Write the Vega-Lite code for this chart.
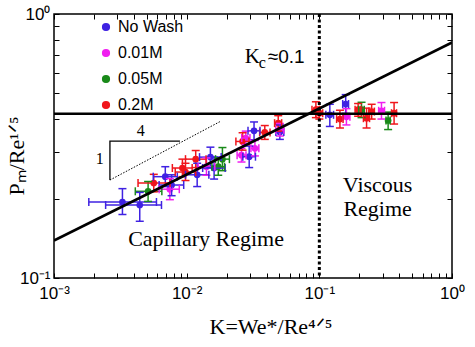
{
  "$schema": "https://vega.github.io/schema/vega-lite/v6.json",
  "width": 398,
  "height": 264,
  "autosize": {"type": "none"},
  "padding": {"left": 54, "top": 14, "right": 23, "bottom": 69},
  "background": "white",
  "config": {
    "view": {"stroke": "black", "strokeWidth": 1.5},
    "font": "Liberation Sans",
    "legend": {"labelFontSize": 16, "labelFont": "Liberation Sans", "labelColor": "black", "symbolSize": 45, "rowPadding": 10, "labelOffset": 4}
  },
  "datasets": {
    "pts": [
      {"s": "No Wash", "K": 0.00328, "P": 0.194, "Kl": 0.00183, "Kh": 0.00592, "Pl": 0.174, "Ph": 0.218},
      {"s": "No Wash", "K": 0.00443, "P": 0.189, "Kl": 0.00245, "Kh": 0.00646, "Pl": 0.164, "Ph": 0.211},
      {"s": "No Wash", "K": 0.0069, "P": 0.242, "Kl": 0.0056, "Kh": 0.0085, "Pl": 0.222, "Ph": 0.264},
      {"s": "No Wash", "K": 0.0077, "P": 0.225, "Kl": 0.0062, "Kh": 0.0095, "Pl": 0.205, "Ph": 0.246},
      {"s": "No Wash", "K": 0.012, "P": 0.246, "Kl": 0.0098, "Kh": 0.0147, "Pl": 0.222, "Ph": 0.272},
      {"s": "No Wash", "K": 0.0151, "P": 0.287, "Kl": 0.0125, "Kh": 0.0182, "Pl": 0.262, "Ph": 0.313},
      {"s": "No Wash", "K": 0.0161, "P": 0.261, "Kl": 0.0132, "Kh": 0.0195, "Pl": 0.237, "Ph": 0.287},
      {"s": "No Wash", "K": 0.0296, "P": 0.288, "Kl": 0.0265, "Kh": 0.033, "Pl": 0.262, "Ph": 0.316},
      {"s": "No Wash", "K": 0.0322, "P": 0.361, "Kl": 0.029, "Kh": 0.0357, "Pl": 0.334, "Ph": 0.39},
      {"s": "No Wash", "K": 0.0504, "P": 0.357, "Kl": 0.047, "Kh": 0.054, "Pl": 0.335, "Ph": 0.38},
      {"s": "No Wash", "K": 0.12, "P": 0.415, "Kl": 0.112, "Kh": 0.128, "Pl": 0.375, "Ph": 0.455},
      {"s": "No Wash", "K": 0.158, "P": 0.456, "Kl": 0.15, "Kh": 0.166, "Pl": 0.42, "Ph": 0.495},
      {"s": "0.01M", "K": 0.00747, "P": 0.217, "Kl": 0.0062, "Kh": 0.0088, "Pl": 0.198, "Ph": 0.238},
      {"s": "0.01M", "K": 0.0141, "P": 0.264, "Kl": 0.0122, "Kh": 0.0163, "Pl": 0.245, "Ph": 0.285},
      {"s": "0.01M", "K": 0.0259, "P": 0.292, "Kl": 0.024, "Kh": 0.028, "Pl": 0.275, "Ph": 0.31},
      {"s": "0.01M", "K": 0.0279, "P": 0.339, "Kl": 0.026, "Kh": 0.03, "Pl": 0.32, "Ph": 0.36},
      {"s": "0.01M", "K": 0.0327, "P": 0.31, "Kl": 0.0305, "Kh": 0.035, "Pl": 0.29, "Ph": 0.332},
      {"s": "0.01M", "K": 0.0504, "P": 0.364, "Kl": 0.047, "Kh": 0.054, "Pl": 0.345, "Ph": 0.385},
      {"s": "0.01M", "K": 0.16, "P": 0.408, "Kl": 0.15, "Kh": 0.17, "Pl": 0.38, "Ph": 0.438},
      {"s": "0.01M", "K": 0.294, "P": 0.43, "Kl": 0.28, "Kh": 0.31, "Pl": 0.4, "Ph": 0.462},
      {"s": "0.05M", "K": 0.00512, "P": 0.213, "Kl": 0.0041, "Kh": 0.0065, "Pl": 0.195, "Ph": 0.232},
      {"s": "0.05M", "K": 0.0173, "P": 0.264, "Kl": 0.0155, "Kh": 0.0193, "Pl": 0.245, "Ph": 0.285},
      {"s": "0.05M", "K": 0.0186, "P": 0.282, "Kl": 0.0165, "Kh": 0.021, "Pl": 0.255, "Ph": 0.312},
      {"s": "0.05M", "K": 0.208, "P": 0.434, "Kl": 0.198, "Kh": 0.218, "Pl": 0.405, "Ph": 0.463},
      {"s": "0.05M", "K": 0.33, "P": 0.395, "Kl": 0.318, "Kh": 0.342, "Pl": 0.365, "Ph": 0.425},
      {"s": "0.2M", "K": 0.00565, "P": 0.229, "Kl": 0.0043, "Kh": 0.0075, "Pl": 0.212, "Ph": 0.247},
      {"s": "0.2M", "K": 0.00929, "P": 0.261, "Kl": 0.0078, "Kh": 0.011, "Pl": 0.242, "Ph": 0.282},
      {"s": "0.2M", "K": 0.0098, "P": 0.252, "Kl": 0.0082, "Kh": 0.0117, "Pl": 0.234, "Ph": 0.272},
      {"s": "0.2M", "K": 0.0117, "P": 0.282, "Kl": 0.0098, "Kh": 0.014, "Pl": 0.262, "Ph": 0.304},
      {"s": "0.2M", "K": 0.0264, "P": 0.329, "Kl": 0.0235, "Kh": 0.0295, "Pl": 0.305, "Ph": 0.355},
      {"s": "0.2M", "K": 0.0388, "P": 0.356, "Kl": 0.0355, "Kh": 0.0425, "Pl": 0.335, "Ph": 0.378},
      {"s": "0.2M", "K": 0.049, "P": 0.386, "Kl": 0.046, "Kh": 0.052, "Pl": 0.36, "Ph": 0.412},
      {"s": "0.2M", "K": 0.0942, "P": 0.434, "Kl": 0.088, "Kh": 0.1, "Pl": 0.405, "Ph": 0.465},
      {"s": "0.2M", "K": 0.1, "P": 0.421, "Kl": 0.094, "Kh": 0.106, "Pl": 0.4, "Ph": 0.444},
      {"s": "0.2M", "K": 0.143, "P": 0.4, "Kl": 0.135, "Kh": 0.151, "Pl": 0.37, "Ph": 0.432},
      {"s": "0.2M", "K": 0.196, "P": 0.434, "Kl": 0.186, "Kh": 0.206, "Pl": 0.41, "Ph": 0.458},
      {"s": "0.2M", "K": 0.227, "P": 0.403, "Kl": 0.215, "Kh": 0.239, "Pl": 0.37, "Ph": 0.44},
      {"s": "0.2M", "K": 0.248, "P": 0.427, "Kl": 0.236, "Kh": 0.26, "Pl": 0.4, "Ph": 0.455},
      {"s": "0.2M", "K": 0.366, "P": 0.421, "Kl": 0.35, "Kh": 0.382, "Pl": 0.383, "Ph": 0.462}
    ],
    "fit": [{"K": 0.001, "P": 0.1386}, {"K": 1, "P": 0.78}],
    "slope": [{"K": 0.00264, "P": 0.235}, {"K": 0.0178, "P": 0.391}],
    "tri": [{"i": 1, "K": 0.00264, "P": 0.235}, {"i": 2, "K": 0.00264, "P": 0.33}, {"i": 3, "K": 0.0089, "P": 0.33}],
    "notes": [
      {"t": "Viscous", "K": 0.275, "P": 0.211},
      {"t": "Regime", "K": 0.275, "P": 0.171},
      {"t": "Capillary Regime", "K": 0.014, "P": 0.1324}
    ],
    "tri_labels": [{"t": "4", "K": 0.00451, "P": 0.362}, {"t": "1", "K": 0.00221, "P": 0.282}],
    "kc": [{"K": 0.0274, "P": 0.653}],
    "hline": [{"P": 0.419}],
    "vline": [{"K": 0.1}]
  },
  "layer": [
    {
      "data": {"name": "pts"},
      "mark": {"type": "point", "filled": true, "size": 45, "opacity": 1},
      "encoding": {
        "x": {"field": "K", "type": "quantitative", "scale": {"type": "log", "domain": [0.001, 1], "nice": false},
          "axis": {"orient": "bottom", "values": [0.001, 0.002, 0.003, 0.004, 0.005, 0.006, 0.007, 0.008, 0.009, 0.01, 0.02, 0.03, 0.04, 0.05, 0.06, 0.07, 0.08, 0.09, 0.1, 0.2, 0.3, 0.4, 0.5, 0.6, 0.7, 0.8, 0.9, 1],
            "labelExpr": "datum.value == 0.001 ? '10⁻³' : datum.value == 0.01 ? '10⁻²' : datum.value == 0.1 ? '10⁻¹' : datum.value == 1 ? '10⁰' : ''",
            "domain": false, "grid": false, "ticks": true, "tickColor": "black", "tickWidth": 1,
            "tickSize": -5,
            "labelFlush": false, "labelOverlap": false, "labelBound": false,
            "labelFont": "Liberation Sans", "labelFontSize": 17, "labelColor": "black", "labelPadding": 12,
            "title": "K=We*/Re⁴ᐟ⁵", "titleFont": "Liberation Serif", "titleFontSize": 22, "titleFontWeight": "normal", "titleColor": "black",
            "titleX": 155, "titleY": 55, "titleAlign": "left", "titleBaseline": "alphabetic"}},
        "y": {"field": "P", "type": "quantitative", "scale": {"type": "log", "domain": [0.1, 1], "nice": false},
          "axis": {"orient": "left", "values": [0.1, 0.2, 0.3, 0.4, 0.5, 0.6, 0.7, 0.8, 0.9, 1],
            "labelExpr": "datum.value == 0.1 ? '10⁻¹' : datum.value == 1 ? '10⁰' : ''",
            "domain": false, "grid": false, "ticks": true, "tickColor": "black", "tickWidth": 1,
            "tickSize": -5,
            "labelFlush": false, "labelOverlap": false, "labelBound": false,
            "labelFont": "Liberation Sans", "labelFontSize": 17, "labelColor": "black", "labelPadding": 9,
            "title": "Pₘ/Re¹ᐟ⁵", "titleFont": "Liberation Serif", "titleFontSize": 22, "titleFontWeight": "normal", "titleColor": "black",
            "titleX": -31, "titleY": 181, "titleAlign": "left", "titleBaseline": "alphabetic", "titleAngle": -90}},
        "color": {"field": "s", "type": "nominal",
          "scale": {"domain": ["No Wash", "0.01M", "0.05M", "0.2M"], "range": ["#3f22e2", "#f01ef0", "#1a8a1a", "#f0161c"]},
          "legend": {"orient": "none", "legendX": 44, "legendY": 5, "title": null, "symbolType": "circle", "symbolSize": 45, "symbolOpacity": 1,
            "labelFontSize": 16, "labelFont": "Liberation Sans", "labelColor": "black", "rowPadding": 10, "labelOffset": 4, "padding": 0}}
      }
    },
    {
      "data": {"name": "pts"},
      "mark": {"type": "rule", "strokeWidth": 1.5},
      "encoding": {
        "x": {"field": "K", "type": "quantitative", "scale": {"type": "log", "domain": [0.001, 1], "nice": false}, "axis": null},
        "y": {"field": "Pl", "type": "quantitative", "scale": {"type": "log", "domain": [0.1, 1], "nice": false}, "axis": null},
        "y2": {"field": "Ph"},
        "color": {"field": "s", "type": "nominal"}
      }
    },
    {
      "data": {"name": "pts"},
      "mark": {"type": "rule", "strokeWidth": 1.5},
      "encoding": {
        "x": {"field": "Kl", "type": "quantitative", "scale": {"type": "log", "domain": [0.001, 1], "nice": false}, "axis": null},
        "x2": {"field": "Kh"},
        "y": {"field": "P", "type": "quantitative", "scale": {"type": "log", "domain": [0.1, 1], "nice": false}, "axis": null},
        "color": {"field": "s", "type": "nominal"}
      }
    },
    {
      "data": {"name": "pts"},
      "mark": {"type": "tick", "orient": "horizontal", "size": 8, "thickness": 1.5, "opacity": 1},
      "encoding": {
        "x": {"field": "K", "type": "quantitative", "scale": {"type": "log", "domain": [0.001, 1], "nice": false}, "axis": null},
        "y": {"field": "Pl", "type": "quantitative", "scale": {"type": "log", "domain": [0.1, 1], "nice": false}, "axis": null},
        "color": {"field": "s", "type": "nominal"}
      }
    },
    {
      "data": {"name": "pts"},
      "mark": {"type": "tick", "orient": "horizontal", "size": 8, "thickness": 1.5, "opacity": 1},
      "encoding": {
        "x": {"field": "K", "type": "quantitative", "scale": {"type": "log", "domain": [0.001, 1], "nice": false}, "axis": null},
        "y": {"field": "Ph", "type": "quantitative", "scale": {"type": "log", "domain": [0.1, 1], "nice": false}, "axis": null},
        "color": {"field": "s", "type": "nominal"}
      }
    },
    {
      "data": {"name": "pts"},
      "mark": {"type": "tick", "orient": "vertical", "size": 8, "thickness": 1.5, "opacity": 1},
      "encoding": {
        "x": {"field": "Kl", "type": "quantitative", "scale": {"type": "log", "domain": [0.001, 1], "nice": false}, "axis": null},
        "y": {"field": "P", "type": "quantitative", "scale": {"type": "log", "domain": [0.1, 1], "nice": false}, "axis": null},
        "color": {"field": "s", "type": "nominal"}
      }
    },
    {
      "data": {"name": "pts"},
      "mark": {"type": "tick", "orient": "vertical", "size": 8, "thickness": 1.5, "opacity": 1},
      "encoding": {
        "x": {"field": "Kh", "type": "quantitative", "scale": {"type": "log", "domain": [0.001, 1], "nice": false}, "axis": null},
        "y": {"field": "P", "type": "quantitative", "scale": {"type": "log", "domain": [0.1, 1], "nice": false}, "axis": null},
        "color": {"field": "s", "type": "nominal"}
      }
    },
    {
      "data": {"name": "hline"},
      "mark": {"type": "rule", "color": "black", "strokeWidth": 2.3},
      "encoding": {
        "y": {"field": "P", "type": "quantitative", "scale": {"type": "log", "domain": [0.1, 1], "nice": false}, "axis": null}
      }
    },
    {
      "data": {"name": "vline"},
      "mark": {"type": "rule", "color": "black", "strokeWidth": 3, "strokeDash": [3, 2.5]},
      "encoding": {
        "x": {"field": "K", "type": "quantitative", "scale": {"type": "log", "domain": [0.001, 1], "nice": false}, "axis": null}
      }
    },
    {
      "data": {"name": "fit"},
      "mark": {"type": "line", "color": "black", "strokeWidth": 2.6, "clip": true},
      "encoding": {
        "x": {"field": "K", "type": "quantitative", "scale": {"type": "log", "domain": [0.001, 1], "nice": false},
          "axis": {"orient": "top", "values": [0.001, 0.002, 0.003, 0.004, 0.005, 0.006, 0.007, 0.008, 0.009, 0.01, 0.02, 0.03, 0.04, 0.05, 0.06, 0.07, 0.08, 0.09, 0.1, 0.2, 0.3, 0.4, 0.5, 0.6, 0.7, 0.8, 0.9, 1],
            "labels": false, "domain": false, "grid": false, "title": null, "ticks": true, "tickColor": "black", "tickWidth": 1,
            "tickSize": -5}},
        "y": {"field": "P", "type": "quantitative", "scale": {"type": "log", "domain": [0.1, 1], "nice": false},
          "axis": {"orient": "right", "values": [0.1, 0.2, 0.3, 0.4, 0.5, 0.6, 0.7, 0.8, 0.9, 1],
            "labels": false, "domain": false, "grid": false, "title": null, "ticks": true, "tickColor": "black", "tickWidth": 1,
            "tickSize": -5}}
      }
    },
    {
      "data": {"name": "slope"},
      "mark": {"type": "line", "color": "black", "strokeWidth": 1, "strokeDash": [1.5, 1.5]},
      "encoding": {
        "x": {"field": "K", "type": "quantitative", "scale": {"type": "log", "domain": [0.001, 1], "nice": false}, "axis": null},
        "y": {"field": "P", "type": "quantitative", "scale": {"type": "log", "domain": [0.1, 1], "nice": false}, "axis": null}
      }
    },
    {
      "data": {"name": "tri"},
      "mark": {"type": "line", "color": "black", "strokeWidth": 1.3},
      "encoding": {
        "x": {"field": "K", "type": "quantitative", "scale": {"type": "log", "domain": [0.001, 1], "nice": false}, "axis": null},
        "y": {"field": "P", "type": "quantitative", "scale": {"type": "log", "domain": [0.1, 1], "nice": false}, "axis": null},
        "order": {"field": "i", "type": "quantitative"}
      }
    },
    {
      "data": {"name": "notes"},
      "mark": {"type": "text", "font": "Liberation Serif", "fontSize": 22, "color": "black", "align": "center", "baseline": "alphabetic"},
      "encoding": {
        "x": {"field": "K", "type": "quantitative", "scale": {"type": "log", "domain": [0.001, 1], "nice": false}, "axis": null},
        "y": {"field": "P", "type": "quantitative", "scale": {"type": "log", "domain": [0.1, 1], "nice": false}, "axis": null},
        "text": {"field": "t"}
      }
    },
    {
      "data": {"name": "tri_labels"},
      "mark": {"type": "text", "font": "Liberation Serif", "fontSize": 16, "color": "black", "align": "center", "baseline": "middle"},
      "encoding": {
        "x": {"field": "K", "type": "quantitative", "scale": {"type": "log", "domain": [0.001, 1], "nice": false}, "axis": null},
        "y": {"field": "P", "type": "quantitative", "scale": {"type": "log", "domain": [0.1, 1], "nice": false}, "axis": null},
        "text": {"field": "t"}
      }
    },
    {
      "data": {"name": "kc"},
      "mark": {"type": "text", "font": "Liberation Serif", "fontSize": 21, "color": "black", "align": "left", "baseline": "alphabetic", "text": "K"},
      "encoding": {
        "x": {"field": "K", "type": "quantitative", "scale": {"type": "log", "domain": [0.001, 1], "nice": false}, "axis": null},
        "y": {"field": "P", "type": "quantitative", "scale": {"type": "log", "domain": [0.1, 1], "nice": false}, "axis": null}
      }
    },
    {
      "data": {"name": "kc"},
      "mark": {"type": "text", "font": "Liberation Serif", "fontSize": 16, "color": "black", "align": "left", "baseline": "alphabetic", "text": "c", "dx": 14, "dy": 5},
      "encoding": {
        "x": {"field": "K", "type": "quantitative", "scale": {"type": "log", "domain": [0.001, 1], "nice": false}, "axis": null},
        "y": {"field": "P", "type": "quantitative", "scale": {"type": "log", "domain": [0.1, 1], "nice": false}, "axis": null}
      }
    },
    {
      "data": {"name": "kc"},
      "mark": {"type": "text", "font": "Liberation Sans", "fontSize": 19, "color": "black", "align": "left", "baseline": "alphabetic", "text": "≈0.1", "dx": 23},
      "encoding": {
        "x": {"field": "K", "type": "quantitative", "scale": {"type": "log", "domain": [0.001, 1], "nice": false}, "axis": null},
        "y": {"field": "P", "type": "quantitative", "scale": {"type": "log", "domain": [0.1, 1], "nice": false}, "axis": null}
      }
    }
  ],
  "resolve": {"axis": {"x": "independent", "y": "independent"}}
}
